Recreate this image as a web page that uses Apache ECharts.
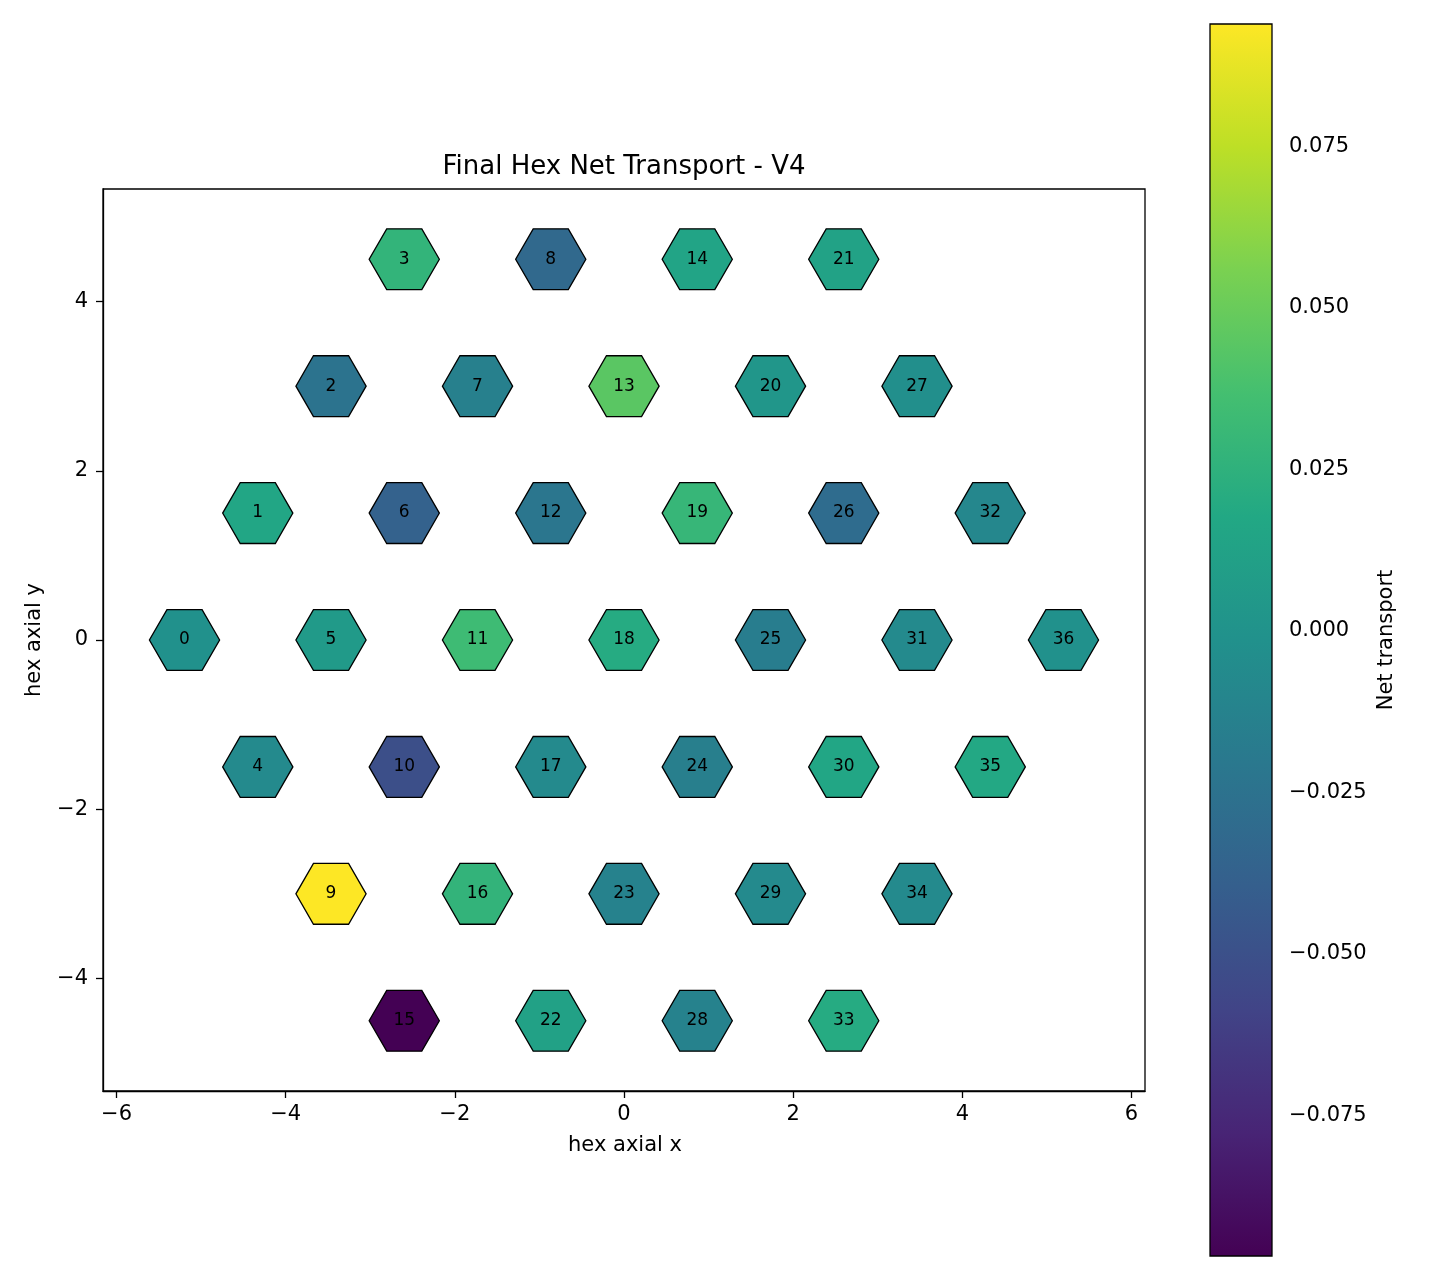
<!DOCTYPE html>
<html>
<head>
<meta charset="utf-8">
<title>Final Hex Net Transport - V4</title>
<script src="https://cdn.jsdelivr.net/npm/echarts@6/dist/echarts.min.js"></script>
<style>
  html, body { margin: 0; padding: 0; background: #fff; }
  #grafico { width: 1440px; height: 1280px; }
</style>
</head>
<body>
<div id="grafico"></div>
<script>
// Dados
var hexIds = [0, 1, 2, 3, 4, 5, 6, 7, 8, 9, 10, 11, 12, 13, 14, 15, 16, 17, 18,
    19, 20, 21, 22, 23, 24, 25, 26, 27, 28, 29, 30, 31, 32, 33, 34, 35, 36];
// coordenadas axiais (q, r) de cada hexágono
var hexQ = [-3, -3, -3, -3, -2, -2, -2, -2, -2, -1, -1, -1, -1, -1, -1, 0, 0, 0, 0,
    0, 0, 0, 1, 1, 1, 1, 1, 1, 2, 2, 2, 2, 2, 3, 3, 3, 3];
var hexR = [0, 1, 2, 3, -1, 0, 1, 2, 3, -2, -1, 0, 1, 2, 3, -3, -2, -1, 0,
    1, 2, 3, -3, -2, -1, 0, 1, 2, -3, -2, -1, 0, 1, -3, -2, -1, 0];
var netTransport = [-0.0013, 0.0160, -0.0240, 0.0274, -0.0070, 0.0064, -0.0375, -0.0146,
    -0.0318, 0.0939, -0.0508, 0.0331, -0.0222, 0.0445, 0.0140, -0.0968, 0.0270, -0.0070,
    0.0200, 0.0293, 0.0026, 0.0130, 0.0120, -0.0127, -0.0155, -0.0165, -0.0300, -0.0032,
    -0.0127, -0.0070, 0.0160, -0.0070, -0.0090, 0.0200, -0.0070, 0.0180, -0.0013];
var xTicks = [-6, -4, -2, 0, 2, 4, 6];
var yTicks = [-4, -2, 0, 2, 4];
var cbarTicks = [-0.075, -0.05, -0.025, 0, 0.025, 0.05, 0.075];

var vMin = -0.0968;
var vMax = 0.0939;
var hexRadius = 0.415;
var viridis = ['#440154', '#482475', '#414487', '#355f8d', '#2a788e', '#21918c',
    '#22a884', '#44bf70', '#7ad151', '#bddf26', '#fde725'];
var fonte = 'DejaVu Sans';

function menos(txt) {
    return String(txt).replace('-', '\u2212');
}

var hexData = hexIds.map(function (id, i) {
    var x = Math.sqrt(3) * (hexQ[i] + hexR[i] / 2);
    var y = 1.5 * hexR[i];
    return [x, y, netTransport[i], id];
});

function desenhaHex(params, api) {
    var cx = api.value(0);
    var cy = api.value(1);
    var pts = [];
    for (var k = 0; k < 6; k++) {
        var a = Math.PI / 3 * k;
        pts.push(api.coord([cx + hexRadius * Math.cos(a), cy + hexRadius * Math.sin(a)]));
    }
    var c = api.coord([cx, cy]);
    return {
        type: 'group',
        children: [
            {
                type: 'polygon',
                shape: { points: pts },
                style: { fill: api.visual('color'), stroke: '#000', lineWidth: 1.3 }
            },
            {
                type: 'text',
                x: c[0],
                y: c[1],
                style: {
                    text: String(api.value(3)),
                    fill: '#000',
                    fontSize: 17,
                    fontFamily: fonte,
                    align: 'center',
                    verticalAlign: 'middle'
                }
            }
        ]
    };
}

function desenhaBarra(params, api) {
    var p0 = api.coord([api.value(0), api.value(3)]);
    var p1 = api.coord([api.value(2), api.value(1)]);
    var stops = viridis.map(function (cor, i) {
        return { offset: 1 - i / (viridis.length - 1), color: cor };
    });
    return {
        type: 'rect',
        shape: { x: p0[0], y: p0[1], width: p1[0] - p0[0], height: p1[1] - p0[1] },
        style: {
            fill: new echarts.graphic.LinearGradient(0, 0, 0, 1, stops),
            stroke: '#000',
            lineWidth: 1.3
        }
    };
}

var chartDom = document.getElementById('grafico');
var myChart = echarts.init(chartDom);

var option = {
    animation: false,
    backgroundColor: '#fff',
    textStyle: { fontFamily: fonte },
    graphic: [
        {
            type: 'text', x: 624, y: 167,
            style: { text: 'Final Hex Net Transport - V4', fontSize: 26, fontFamily: fonte, fill: '#000', align: 'center', verticalAlign: 'middle' }
        },
        {
            type: 'text', x: 625, y: 1146,
            style: { text: 'hex axial x', fontSize: 21, fontFamily: fonte, fill: '#000', align: 'center', verticalAlign: 'middle' }
        },
        {
            type: 'text', x: 35, y: 640, rotation: Math.PI / 2,
            style: { text: 'hex axial y', fontSize: 21, fontFamily: fonte, fill: '#000', align: 'center', verticalAlign: 'middle' }
        },
        {
            type: 'text', x: 1387, y: 640, rotation: Math.PI / 2,
            style: { text: 'Net transport', fontSize: 21, fontFamily: fonte, fill: '#000', align: 'center', verticalAlign: 'middle' }
        }
    ],
    grid: [
        {
            left: 103, top: 189, width: 1042, height: 902,
            show: true, borderColor: '#000', borderWidth: 1.3, backgroundColor: 'transparent'
        },
        { left: 1210, top: 24, width: 62, height: 1232 }
    ],
    visualMap: {
        type: 'continuous',
        show: false,
        seriesIndex: 0,
        dimension: 2,
        min: vMin,
        max: vMax,
        inRange: { color: viridis }
    },
    xAxis: [
        {
            type: 'value',
            gridIndex: 0,
            min: -6.16,
            max: 6.16,
            axisLine: { show: true, onZero: false, lineStyle: { color: '#000', width: 1.3 } },
            axisTick: { show: true, length: 7, customValues: xTicks, lineStyle: { color: '#000', width: 1.3 } },
            axisLabel: {
                customValues: xTicks, margin: 13, fontSize: 21, color: '#000', fontFamily: fonte,
                formatter: function (v) { return menos(v); }
            },
            splitLine: { show: false }
        },
        {
            type: 'value',
            gridIndex: 1,
            min: 0,
            max: 1,
            show: false
        }
    ],
    yAxis: [
        {
            type: 'value',
            gridIndex: 0,
            min: -5.33,
            max: 5.33,
            axisLine: { show: true, onZero: false, lineStyle: { color: '#000', width: 1.3 } },
            axisTick: { show: true, length: 7, customValues: yTicks, lineStyle: { color: '#000', width: 1.3 } },
            axisLabel: {
                customValues: yTicks, margin: 15, fontSize: 21, color: '#000', fontFamily: fonte,
                formatter: function (v) { return menos(v); }
            },
            splitLine: { show: false }
        },
        {
            type: 'value',
            gridIndex: 1,
            position: 'right',
            min: vMin,
            max: vMax,
            axisLine: { show: false },
            axisTick: { show: true, length: 7, customValues: cbarTicks, lineStyle: { color: '#000', width: 1.3 } },
            axisLabel: {
                customValues: cbarTicks, margin: 17, fontSize: 21, color: '#000', fontFamily: fonte,
                formatter: function (v) { return menos(v.toFixed(3)); }
            },
            splitLine: { show: false }
        }
    ],
    series: [
        {
            name: 'Net transport',
            type: 'custom',
            xAxisIndex: 0,
            yAxisIndex: 0,
            renderItem: desenhaHex,
            encode: { x: 0, y: 1 },
            data: hexData
        },
        {
            name: 'colorbar',
            type: 'custom',
            xAxisIndex: 1,
            yAxisIndex: 1,
            renderItem: desenhaBarra,
            encode: { x: [0, 2], y: [1, 3] },
            data: [[0, vMin, 1, vMax]],
            silent: true
        }
    ]
};

option && myChart.setOption(option);
</script>
</body>
</html>
